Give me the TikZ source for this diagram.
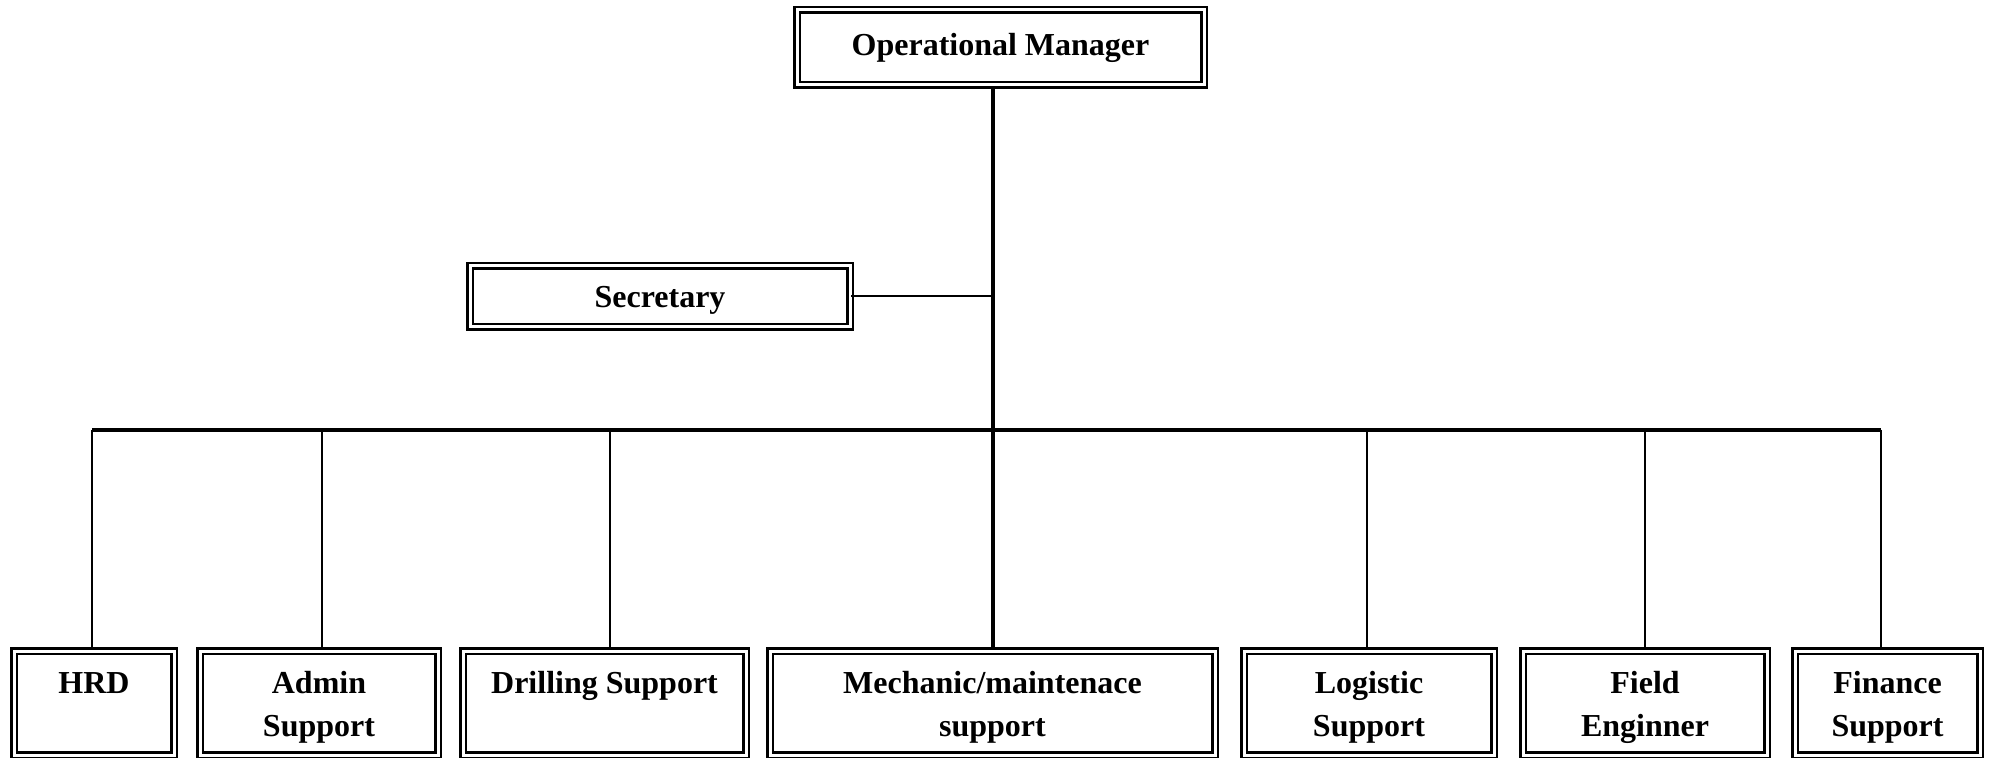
\documentclass[tikz,border=0pt]{standalone}
\usepackage{fontspec}
\setmainfont{Liberation Serif}
\usepackage{tikz}
\usetikzlibrary{calc, positioning}
\usepackage{xcolor}
\definecolor{RichBlack}{gray}{0.0}
\tikzset{%
  org_box/.style={%
    rectangle,%
    draw=RichBlack,%
    double=white,%
    double distance=1.5pt,%
    line width=1.25pt,%
    inner sep=0pt,%
    font={\fontsize{16}{21.5}\selectfont\bfseries},%
    align=center%
  },
  head_box/.style={%
    org_box,%
    text depth=0pt,%
  },
  unit_box/.style={%
    org_box,%
    minimum height=52pt,%
    text height=35pt,%
    text depth=2pt,%
  },
  main_path/.style={%
    color=RichBlack,%
    line width=2pt,%
  },
  branch_path/.style={%
    color=RichBlack,%
    line width=1pt,%
  },
}
\begin{document}
\begin{tikzpicture}[x=0.5pt, y=-0.5pt]
  \useasboundingbox (0,0) rectangle (1990,758);
  \clip (0,0) rectangle (1990,758);

  \node [org_box, minimum width=203.5pt, minimum height=37.5pt] (Manager) at (1000.5,47.5) {Operational Manager};
  \node [head_box, minimum width=190pt, minimum height=30.5pt] (Secretary) at (660,296.5) {Secretary};

  \node [unit_box, minimum width=80pt] (HRD) at (94,703) {HRD\\\mbox{}};
  \node [unit_box, minimum width=119pt] (Admin) at (319,703) {Admin\\Support};
  \node [unit_box, minimum width=141.5pt] (Drilling) at (604.5,703) {Drilling Support\\\mbox{}};
  \node [unit_box, minimum width=222.5pt] (Mechanic) at (992.5,703) {Mechanic/maintenace\\support};
  \node [unit_box, minimum width=125pt] (Logistic) at (1369,703) {Logistic\\Support};
  \node [unit_box, minimum width=122pt] (Field) at (1645,703) {Field\\Enginner};
  \node [unit_box, minimum width=92.5pt] (Finance) at (1887.5,703) {Finance\\Support};

  \coordinate (bus) at (0,430);

  \draw [main_path]
    (Mechanic.north |- Manager.south)
    --
    (Mechanic.north);
  \draw [branch_path]
    (Secretary.east)
    --
    (Secretary.east -| Mechanic.north);
  \draw [main_path]
    ([xshift=-1pt]HRD.north |- bus)
    --
    ([xshift=-3.25pt]Finance.north |- bus);
  \foreach \unit/\dx in {HRD/-2, Admin/3, Drilling/5.5, Logistic/-2, Field/0, Finance/-6.5}
    \draw [branch_path] ([xshift=\dx*0.5pt]\unit.north |- bus) -- ([xshift=\dx*0.5pt]\unit.north);
\end{tikzpicture}
\end{document}
